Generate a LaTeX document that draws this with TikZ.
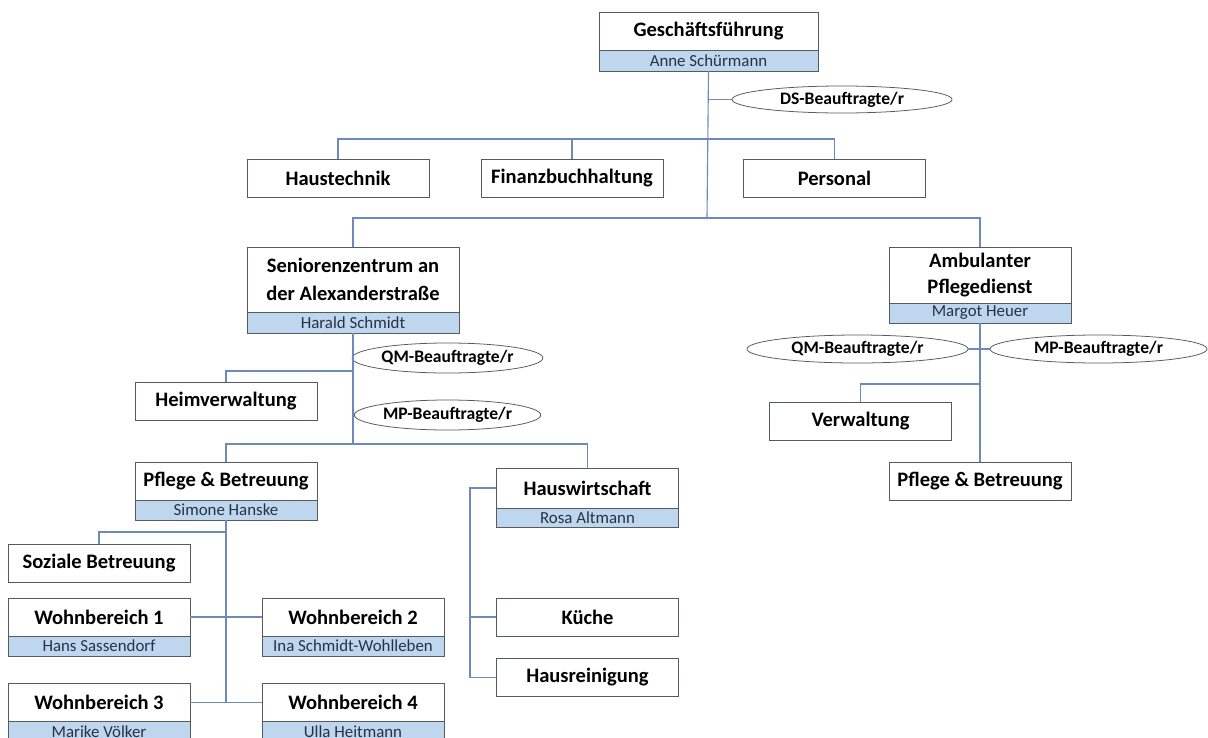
\documentclass[tikz,border=0pt]{standalone}
\usepackage{fontspec}
\setmainfont{Carlito}
\usepackage{tikz}
\usetikzlibrary{shapes.geometric,positioning}

\definecolor{boxcol}{RGB}{85,90,100}
\definecolor{linecol}{RGB}{110,138,185}
\definecolor{bandfill}{RGB}{190,214,238}
\definecolor{namecol}{RGB}{40,50,70}

\begin{document}
\begin{tikzpicture}[
    x=0.025cm, y=-0.025cm,
    unit/.style={draw=boxcol, fill=white, line width=0.6pt, outer sep=0pt, inner sep=2pt, minimum width=4.55cm, minimum height=0.95cm, align=center, font=\fontsize{14.6}{19}\selectfont\bfseries},
    namebox/.style={draw=boxcol, fill=bandfill, line width=0.6pt, outer sep=0pt, inner sep=1pt, minimum width=4.55cm, minimum height=0.5cm, text=namecol, font=\fontsize{12}{13}\selectfont},
    officer/.style={ellipse, draw=boxcol, fill=white, line width=0.55pt, inner sep=1pt, minimum height=0.72cm, font=\fontsize{12.5}{13}\selectfont\bfseries},
    conn/.style={draw=linecol, line width=0.8pt}
]
    \useasboundingbox (0,0) rectangle (1208,737);

    % Geschaeftsfuehrung and staff units
    \node[unit, minimum width=5.475cm] (gf) at (708.5,31) {Geschäftsführung};
    \node[namebox, minimum width=5.475cm, minimum height=0.525cm, below=0pt of gf] (gfname) {Anne Schürmann};
    \node[officer, minimum width=5.5cm, minimum height=0.675cm] (ds) at (842,99.5) {DS-Beauftragte/r};

    \node[unit] (haus) at (338,178.5) {Haustechnik};
    \node[unit] (fibu) at (572,178.5) {Finanzbuchhaltung};
    \node[unit] (pers) at (834.5,178.5) {Personal};

    \coordinate (bar1) at (707,139);
    \coordinate (bar2) at (707,218);
    \draw[conn] (gfname.south) -- (bar2);
    \draw[conn] (gfname.south |- ds) -- (ds.west);
    \draw[conn] (haus.north) |- (bar1) -| (pers.north);
    \draw[conn] (fibu.north) -- (fibu.north |- bar1);

    % Seniorenzentrum
    \node[unit, minimum width=5.3cm, minimum height=1.625cm, font=\fontsize{14.6}{20}\selectfont\bfseries] (sz) at (353,279.5) {Seniorenzentrum an\\der Alexanderstraße};
    \node[namebox, minimum width=5.3cm, minimum height=0.525cm, below=0pt of sz] (szname) {Harald Schmidt};
    \node[officer, minimum width=4.025cm, minimum height=0.75cm] (qmsz) at (447.5,358) {QM-Beauftragte/r};
    \node[officer, minimum width=4.025cm, minimum height=0.75cm] (mpsz) at (447.5,415) {MP-Beauftragte/r};
    \node[unit] (heim) at (226,401) {Heimverwaltung};

    \coordinate (heimjoin) at (353,371);
    \coordinate (bar3) at (353,444);
    \draw[conn] (szname.south) -- (bar3);
    \draw[conn] (szname.south |- qmsz) -- (qmsz.west);
    \draw[conn] (szname.south |- mpsz) -- (mpsz.west);
    \draw[conn] (heim.north) |- (heimjoin);

    % Pflege & Betreuung (stationaer)
    \node[unit] (pfl) at (226,481) {Pflege \& Betreuung};
    \node[namebox, below=0pt of pfl] (pflname) {Simone Hanske};
    \node[unit] (sozial) at (99,563) {Soziale Betreuung};
    \node[unit] (wb1) at (99,617) {Wohnbereich 1};
    \node[namebox, below=0pt of wb1] (wb1name) {Hans Sassendorf};
    \node[unit] (wb2) at (353,617) {Wohnbereich 2};
    \node[namebox, below=0pt of wb2] (wb2name) {Ina Schmidt-Wohlleben};
    \node[unit] (wb3) at (99,702.5) {Wohnbereich 3};
    \node[namebox, below=0pt of wb3] (wb3name) {Marike Völker};
    \node[unit] (wb4) at (353,702.5) {Wohnbereich 4};
    \node[namebox, below=0pt of wb4] (wb4name) {Ulla Heitmann};

    \draw[conn] (pflname.south) -- (pflname.south |- wb3.east);
    \draw[conn] (sozial.north) |- (pflname.south |- 0,532);
    \draw[conn] (wb1.east) -- (wb2.west);
    \draw[conn] (wb3.east) -- (wb4.west);

    % Hauswirtschaft
    \node[unit, minimum height=1cm] (hw) at (587.5,488) {Hauswirtschaft};
    \node[namebox, minimum height=0.475cm, below=0pt of hw] (hwname) {Rosa Altmann};
    \node[unit] (kueche) at (587.5,617) {Küche};
    \node[unit] (reinig) at (587.5,677.5) {Hausreinigung};

    \coordinate (hwrail) at (470,488);
    \draw[conn] (pfl.north) |- (bar3) -| (hw.north);
    \draw[conn] (hw.west) -- (hwrail) |- (reinig.west);
    \draw[conn] (kueche.west) -- (hwrail |- kueche.west);

    % Ambulanter Pflegedienst
    \node[unit, minimum height=1.4cm] (apd) at (980,275) {Ambulanter\\Pflegedienst};
    \node[namebox, below=0pt of apd] (apdname) {Margot Heuer};
    \node[officer, minimum width=5.525cm, minimum height=0.7cm] (qmapd) at (857.5,349) {QM-Beauftragte/r};
    \node[officer, minimum width=5.425cm, minimum height=0.7cm] (mpapd) at (1098.5,349) {MP-Beauftragte/r};
    \node[unit] (verw) at (860.5,421) {Verwaltung};
    \node[unit] (pflamb) at (980,481) {Pflege \& Betreuung};

    \draw[conn] (sz.north) |- (bar2) -| (apd.north);
    \draw[conn] (apdname.south) -- (pflamb.north);
    \draw[conn] (qmapd.east) -- (mpapd.west);
    \draw[conn] (verw.north) |- (apdname.south |- 0,384);
\end{tikzpicture}
\end{document}
